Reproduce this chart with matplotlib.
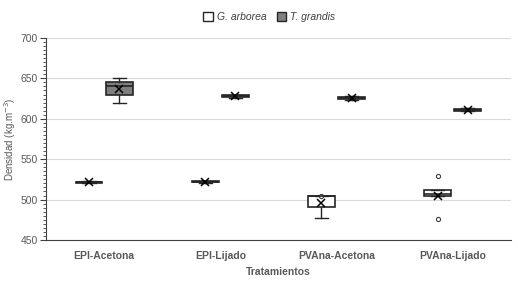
import matplotlib
matplotlib.use('Agg')
import matplotlib.pyplot as plt
from matplotlib.ticker import MultipleLocator
from matplotlib.patches import Patch

plt.rcParams['font.family'] = ['Liberation Sans', 'DejaVu Sans']

treatments = ['EPI-Acetona', 'EPI-Lijado', 'PVAna-Acetona', 'PVAna-Lijado']
species = ['G. arborea', 'T. grandis']

# box statistics (kg/m3)
arb_whislo = [520, 521, 477, 504]
arb_q1 = [521, 521.5, 491, 504]
arb_med = [521.5, 522, 504, 507]
arb_q3 = [522, 522.5, 505, 512]
arb_whishi = [523, 523, 505, 512]
arb_mean = [521.5, 522, 496, 505]
arb_fliers = [[], [], [505], [529, 476]]

gra_whislo = [619, 626, 623, 609]
gra_q1 = [629, 627, 624, 610]
gra_med = [640, 628, 625.5, 611]
gra_q3 = [645, 629, 627, 612]
gra_whishi = [651, 630, 628, 613]
gra_mean = [637, 628, 625.5, 611]
gra_fliers = [[], [], [], []]

grey = '#595959'

fig = plt.figure(figsize=(5.18, 2.81), dpi=100)
ax = fig.add_axes([0.089, 0.146, 0.897, 0.719])

def stats(lo, q1, med, q3, hi, mean, fl):
    return [dict(whislo=a, q1=b, med=c, q3=d, whishi=e, mean=f, fliers=g)
            for a, b, c, d, e, f, g in zip(lo, q1, med, q3, hi, mean, fl)]

pos = list(range(len(treatments)))
groups = [
    (stats(arb_whislo, arb_q1, arb_med, arb_q3, arb_whishi, arb_mean, arb_fliers), -0.13, 'white'),
    (stats(gra_whislo, gra_q1, gra_med, gra_q3, gra_whishi, gra_mean, gra_fliers), 0.13, '#7f7f7f'),
]
for st, off, fc in groups:
    ax.bxp(st, positions=[p + off for p in pos], widths=0.23, patch_artist=True,
           showmeans=True, manage_ticks=False,
           boxprops=dict(facecolor=fc, edgecolor='#262626', linewidth=1.2),
           medianprops=dict(color='#262626', linewidth=1.2),
           whiskerprops=dict(color='#262626', linewidth=1),
           capprops=dict(color='#262626', linewidth=1),
           meanprops=dict(marker='x', markeredgecolor='black', markersize=5.5, markeredgewidth=1.1),
           flierprops=dict(marker='o', markerfacecolor='white', markeredgecolor='#404040',
                           markersize=3, markeredgewidth=0.8))

ax.set_xlim(-0.5, 3.5)
ax.set_ylim(450, 700)
ax.yaxis.set_major_locator(MultipleLocator(50))
ax.yaxis.set_minor_locator(MultipleLocator(5))
ax.set_xticks(pos)
ax.set_xticklabels(treatments, fontweight='bold', fontsize=7.5, color=grey)
ax.tick_params(axis='x', length=0, pad=8)
ax.tick_params(axis='y', which='major', labelsize=7.5, labelcolor=grey, length=4, color='#404040', pad=2)
ax.tick_params(axis='y', which='minor', length=2, color='#404040')
ax.grid(axis='y', color='#d9d9d9', linewidth=0.8)
ax.set_axisbelow(True)
for s in ['top', 'right']:
    ax.spines[s].set_visible(False)
ax.spines['left'].set_color('#404040')
ax.spines['bottom'].set_color('#404040')

ax.set_ylabel('Densidad (kg.m$^{-3}$)', fontsize=7, color=grey, labelpad=2)
ax.set_xlabel('Tratamientos', fontsize=7.5, color=grey, fontweight='bold', labelpad=4)

handles = [Patch(facecolor='white', edgecolor='#262626'),
           Patch(facecolor='#7f7f7f', edgecolor='#262626')]
fig.legend(handles, species, loc='center', bbox_to_anchor=(0.52, 0.94), ncol=2,
           frameon=False, prop=dict(style='italic', size=7.5), handlelength=0.9,
           handleheight=0.9, columnspacing=1.0, handletextpad=0.4, labelcolor='#404040')

fig.savefig('out.png', dpi=100)
